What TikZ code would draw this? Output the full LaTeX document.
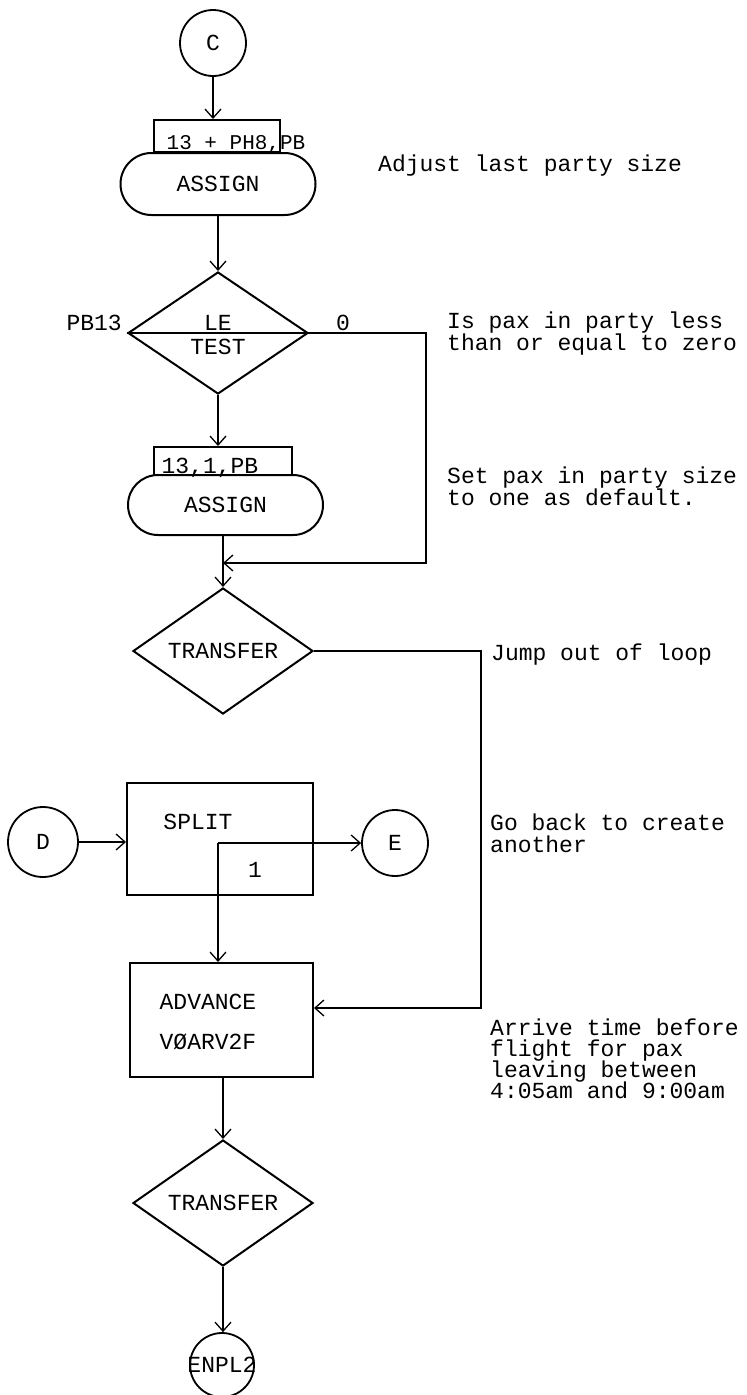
\documentclass[tikz,border=0pt]{standalone}
\usepackage{fontspec}
\setmonofont{Liberation Mono}
\usetikzlibrary{shapes.geometric,shapes.misc,arrows.meta}

\tikzset{
  txt/.style={font=\ttfamily\fontsize{23}{22}\selectfont, inner sep=0pt},
  fieldtxt/.style={font=\ttfamily\fontsize{21}{22}\selectfont, inner sep=0pt, anchor=base},
  note/.style={txt, anchor=base west},
  block/.style={draw, line width=2pt, rectangle, inner sep=0pt},
  assignbox/.style={draw, line width=2pt, rounded rectangle, minimum width=195pt, minimum height=62pt, inner sep=0pt},
  decision/.style={draw, line width=2pt, diamond, inner sep=0pt, minimum width=180pt, minimum height=122pt},
  connector/.style={draw, line width=1.8pt, circle, inner sep=0pt, minimum size=66pt},
  flow/.style={line width=1.3pt, -{Straight Barb[length=9pt,width=16pt,line width=1.3pt]}},
}

\begin{document}
\begin{tikzpicture}[x=1pt, y=-1pt]

\useasboundingbox (0,0) rectangle (747,1395);

% Entry connector
\node[connector, txt] (C) at (213,43) {C};

% First assign block with its field box
\node[block, minimum width=126pt, minimum height=32pt] (f1) at (217,136) {};
\node[assignbox, txt] (a1) at (218,184) {ASSIGN};
\node[fieldtxt] (f1txt) at (236,149) {13 + PH8,PB};

% Test block, split by the operand line
\node[decision] (t1) at (218,333) {};
\draw[line width=2pt] (t1.west) -- (t1.east);
\node[txt, anchor=base] (le) at (218,330) {LE};
\node[txt, anchor=base] (test) at (218,354) {TEST};
\node[txt, anchor=base east] (pb13) at (122,330) {PB13};
\node[txt, anchor=base] (zero) at (343,330) {0};

% Second assign block with its field box
\node[block, minimum width=138pt, minimum height=28pt] (f2) at (223,461) {};
\node[assignbox, txt, minimum height=60pt] (a2) at (225.5,505) {ASSIGN};
\node[fieldtxt, font=\ttfamily\fontsize{23}{22}\selectfont] (f2txt) at (210,473) {13,1,PB};

% First transfer
\coordinate (j1) at (223,563);
\node[decision, txt, minimum height=123pt] (tr1) at (223,651) {TRANSFER};

% Split block and its connectors
\node[block, minimum width=186pt, minimum height=112pt] (sp) at (220,839) {};
\node[txt] (splittxt) at (198,822) {SPLIT};
\node[txt] (one) at (255,870) {1};
\node[connector, txt] (E) at (395,843) {E};
\node[connector, txt, minimum size=70pt] (D) at (43,842) {D};
\coordinate (fork) at (218,843);

% Advance block
\node[block, minimum width=183pt, minimum height=114pt] (ad) at (221.5,1020) {};
\node[txt] (adv) at (208,1002) {ADVANCE};
\node[txt] (vsarv) at (208,1042) {VØARV2F};
\coordinate (adin) at ([yshift=12pt]ad.east);

% Second transfer and exit connector
\node[decision, txt, minimum height=120pt] (tr2) at (223,1203) {TRANSFER};
\node[connector, minimum size=64pt] (en) at (222,1365) {};
\node[txt] (entxt) at (en) {ENPL2};

% Flow lines
\draw[flow] (C) -- (C |- f1.north);
\draw[flow] (a1.south) -- (t1.north);
\draw[flow] (t1.south) -- (t1.south |- f2.north);
\draw[flow] (t1.east) -- ++(117,0) |- (j1);
\draw[flow] (tr1.north |- a2.south) -- (tr1.north);
\draw[flow] (tr1.east) -- ++(167,0) |- (adin);
\draw[flow] (D) -- (sp.west |- D);
\draw[flow] (fork) -- (E.west);
\draw[flow] (fork) -- (fork |- ad.north);
\draw[flow] (tr2.north |- ad.south) -- (tr2.north);
\draw[flow] (tr2.south) -- (tr2.south |- en.north);

% Comments on the right
\foreach \x/\y/\t [count=\i] in {
    378/171/Adjust last party size,
    447/328/Is pax in party less,
    447/350/than or equal to zero,
    447/483/Set pax in party size,
    447/505/to one as default.,
    491/660/Jump out of loop,
    490/830/Go back to create,
    490/852/another,
    490/1035/Arrive time before,
    490/1056/flight for pax,
    490/1077/leaving between,
    490/1098/4:05am and 9:00am} {
    \node[note] (note\i) at (\x,\y) {\t};
}

\end{tikzpicture}
\end{document}
